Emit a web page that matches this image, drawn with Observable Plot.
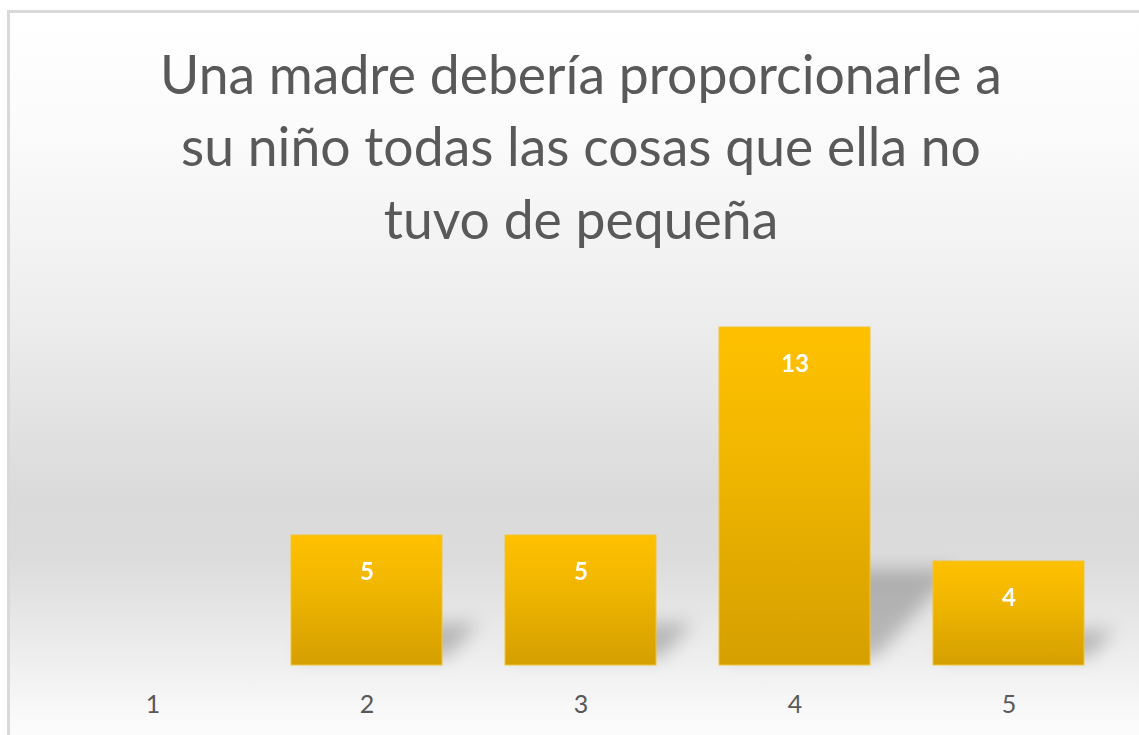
<!DOCTYPE html>
<html><head><meta charset="utf-8">
<script src="https://cdn.jsdelivr.net/npm/d3@7"></script>
<script src="https://cdn.jsdelivr.net/npm/@observablehq/plot@0.6"></script>
<style>
html,body{margin:0;padding:0;background:#fff;overflow:hidden;width:1139px;height:735px}
#frame{position:absolute;left:7px;top:10px;width:1150px;height:740px;box-sizing:border-box;
  border:3px solid #d9d9d9;border-right:none;border-bottom:none;
  background:linear-gradient(to bottom,#ffffff 0%,#fbfbfb 16%,#eeeeee 40%,#dadada 66%,#dcdcdc 74%,#ececec 86%,#fafafa 96%,#fdfdfd 100%);}
#title,#chart svg{display:block}
</style></head><body>
<div id="frame"><svg id="title" width="1129" height="257"></svg><div id="chart"></div></div>
<script>
const titleLines = [
  "Una madre debería proporcionarle a",
  "su niño todas las cosas que ella no",
  "tuvo de pequeña"
];
const categories = ["1", "2", "3", "4", "5"];
const values = [0, 5, 5, 13, 4];

// Title (real text), sized so the first line matches the reference width
const ctx = document.createElement("canvas").getContext("2d");
ctx.font = "100px Lato";
const titleSize = 100 * 842 / ctx.measureText(titleLines[0]).width;
const tsvg = d3.select("#title");
const baselines = [81, 153, 226];
titleLines.forEach((t, i) => {
  tsvg.append("text").attr("x", 571).attr("y", baselines[i])
    .attr("text-anchor", "middle").attr("fill", "#595959")
    .attr("font-family", "Lato").attr("font-size", titleSize).text(t);
});

const data = categories.map((c, i) => ({category: c, value: values[i]}));
const shown = data.filter(d => d.value > 0);

const chart = Plot.plot({
  width: 1129, height: 465,
  marginLeft: 34, marginRight: 23, marginTop: 31, marginBottom: 70,
  style: {background: "transparent", fontFamily: "Lato", color: "#595959", overflow: "visible"},
  x: {domain: categories, paddingInner: 0.295, paddingOuter: 0.1475},
  y: {domain: [0, 14], axis: null},
  marks: [
    Plot.barY(shown, {x: "category", y1: 0, y2: d => d.value * 0.26, fill: "#000", fillOpacity: 0.22, ariaDescription: "shadow"}),
    Plot.barY(shown, {x: "category", y: "value", fill: "url(#barGrad)", stroke: "#f1c33a", strokeWidth: 1, ariaDescription: "bars"}),
    Plot.text(shown, {x: "category", y: "value", text: d => String(d.value), dy: 37, fill: "white", fontSize: 24, fontWeight: "bold"}),
    Plot.axisX({tickSize: 0, tickPadding: 30, fontSize: 25, label: null, fill: "#595959"})
  ]
});

const svg = d3.select(chart);
const defs = svg.insert("defs", ":first-child");
const g = defs.append("linearGradient").attr("id", "barGrad").attr("x1", 0).attr("y1", 0).attr("x2", 0).attr("y2", 1);
g.append("stop").attr("offset", "0%").attr("stop-color", "#ffc000");
g.append("stop").attr("offset", "35%").attr("stop-color", "#f2b800");
g.append("stop").attr("offset", "100%").attr("stop-color", "#d59f00");
const f = defs.append("filter").attr("id", "shadowBlur").attr("x", "-50%").attr("y", "-50%").attr("width", "200%").attr("height", "200%");
f.append("feGaussianBlur").attr("stdDeviation", 9);

let shadowG = svg.select('g[aria-description="shadow"]');
if (shadowG.empty()) shadowG = d3.select(svg.selectAll('g[aria-label="bar"]').nodes()[0]);
shadowG.attr("filter", "url(#shadowBlur)").selectAll("rect").each(function() {
  const r = d3.select(this);
  const y0 = +r.attr("y") + +r.attr("height");
  r.attr("transform", `translate(6,-8) translate(0,${y0}) skewX(-42) translate(0,${-y0})`);
});

document.getElementById("chart").appendChild(chart);
</script>
</body></html>
